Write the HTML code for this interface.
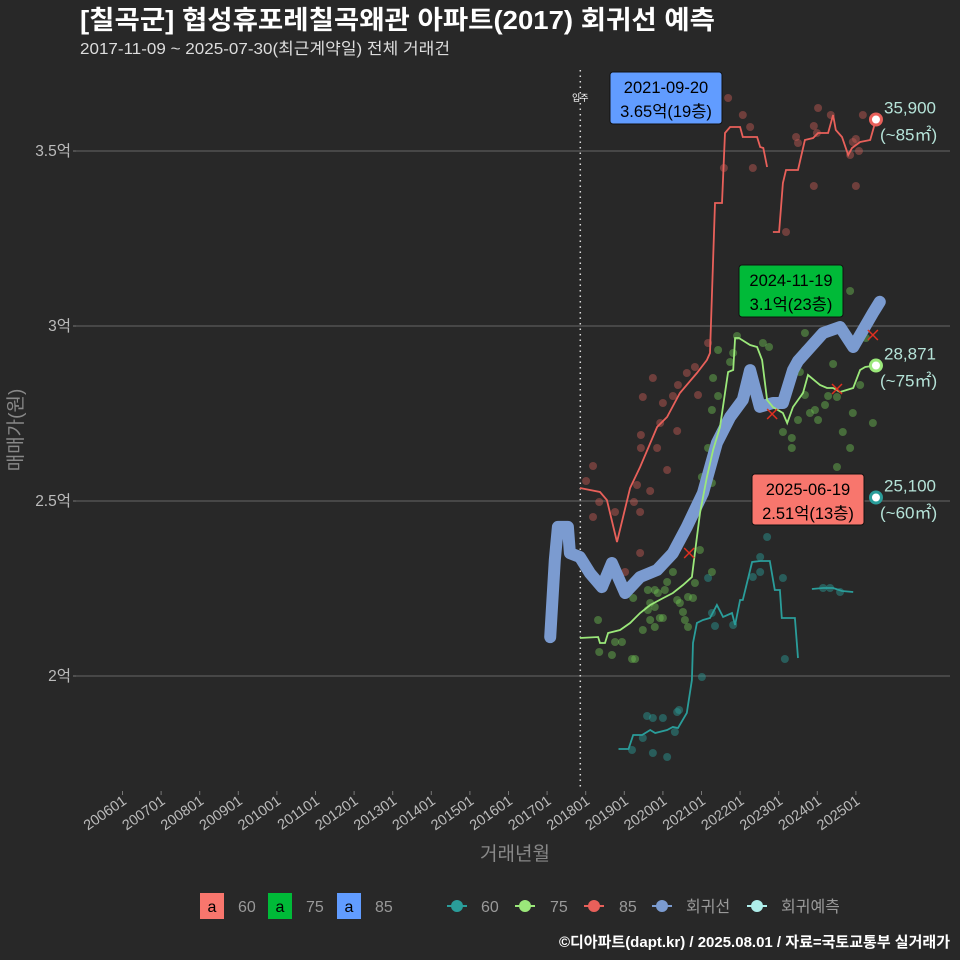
<!DOCTYPE html>
<html><head><meta charset="utf-8">
<style>
body{margin:0;background:#282828;}
svg{display:block;font-family:"Liberation Sans","Noto Sans CJK KR",sans-serif;}
</style></head>
<body>
<svg id="c" width="960" height="960" viewBox="0 0 960 960" xmlns="http://www.w3.org/2000/svg">
<rect width="960" height="960" fill="#282828"/>
<text x="80" y="29" fill="#fff" font-size="26" font-weight="bold" textLength="635" lengthAdjust="spacingAndGlyphs">[칠곡군] 협성휴포레칠곡왜관 아파트(2017) 회귀선 예측</text>
<text x="80" y="54" fill="#ddd" font-size="16" textLength="370" lengthAdjust="spacingAndGlyphs">2017-11-09 ~ 2025-07-30(최근계약일) 전체 거래건</text>
<g id="grid"></g>
<g id="marks"></g>
<text transform="translate(22,430) rotate(-90)" text-anchor="middle" fill="#888" font-size="19">매매가(원)</text>
<text x="515" y="860" text-anchor="middle" fill="#888" font-size="19">거래년월</text>
<g font-size="16" fill="#999">
 <rect x="200" y="893" width="24" height="26" fill="#f8766d"/><text x="212" y="912" text-anchor="middle" fill="#000">a</text><text x="238" y="912">60</text>
 <rect x="268" y="893" width="24" height="26" fill="#00ba38"/><text x="280" y="912" text-anchor="middle" fill="#000">a</text><text x="306" y="912">75</text>
 <rect x="337" y="893" width="24" height="26" fill="#619cff"/><text x="349" y="912" text-anchor="middle" fill="#000">a</text><text x="375" y="912">85</text>
 <line x1="447" y1="906" x2="467" y2="906" stroke="#2a9d9a" stroke-width="2"/><circle cx="457" cy="906" r="6" fill="#2a9d9a"/><text x="481" y="912">60</text>
 <line x1="515" y1="906" x2="535" y2="906" stroke="#9be87a" stroke-width="2"/><circle cx="525" cy="906" r="6" fill="#9be87a"/><text x="550" y="912">75</text>
 <line x1="584" y1="906" x2="604" y2="906" stroke="#e8605a" stroke-width="2"/><circle cx="594" cy="906" r="6" fill="#e8605a"/><text x="619" y="912">85</text>
 <line x1="652" y1="906" x2="672" y2="906" stroke="#7b9bd0" stroke-width="2"/><circle cx="662" cy="906" r="6" fill="#7b9bd0"/><text x="686" y="912">회귀선</text>
 <line x1="747" y1="906" x2="767" y2="906" stroke="#aeeeea" stroke-width="2"/><circle cx="757" cy="906" r="6" fill="#aeeeea"/><text x="781" y="912">회귀예측</text>
</g>
<text x="950" y="947" text-anchor="end" fill="#fff" font-size="15" font-weight="bold">©디아파트(dapt.kr) / 2025.08.01 / 자료=국토교통부 실거래가</text>
</svg>
<script>
// ---- data (t = fractional year, v = price in 만원) ----
const yTicks=[20000,25000,30000,35000];
const yTickLabels=["2억","2.5억","3억","3.5억"];
const xTickYears=[2006,2007,2008,2009,2010,2011,2012,2013,2014,2015,2016,2017,2018,2019,2020,2021,2022,2023,2024,2025];
const xTickLabels=["200601","200701","200801","200901","201001","201101","201201","201301","201401","201501","201601","201701","201801","201901","202001","202101","202201","202301","202401","202501"];
const regT=[2017.08,2017.20,2017.28,2017.54,2017.59,2017.85,2018.11,2018.42,2018.68,2019.02,2019.41,2019.85,2020.26,2020.62,2021.04,2021.40,2021.74,2022.07,2022.26,2022.51,2022.85,2023.11,2023.37,2023.5,2024.15,2024.59,2024.93,2025.44,2025.62];
const regV=[21110,23310,24260,24260,23510,23400,22940,22540,23230,22370,22830,23030,23510,24260,25230,26660,27400,27890,28740,27690,27800,27800,28740,29000,29800,29970,29400,30370,30690];
const l85T=[2017.85,2018.37,2018.55,2018.81,2019.15,2019.41,2019.85,2020.11,2020.44,2020.88,2021.14,2021.22,2021.35,2021.53,2021.61,2021.74,2022.00,2022.07,2022.44,2022.52,2022.60,2022.70,null,2022.85,2023.01,2023.11,2023.19,2023.50,2023.68,2023.89,2024.02,2024.28,2024.41,2024.48,2024.64,2024.80,2024.90,2025.11,2025.37,2025.52];
const l85V=[25371,25257,25029,23829,25371,25971,27114,27400,28086,28657,29029,29229,33514,33514,35514,35686,35686,35400,35400,35114,35086,34543,null,32686,32686,34086,34457,34457,35314,35371,35514,35514,36029,35600,35400,34886,35086,35257,35314,35900];
const l75T=[2017.85,2018.32,2018.37,2018.50,2018.58,2018.89,2019.15,2019.41,2019.67,2020.01,2020.26,2020.52,2020.75,2020.83,2020.96,2021.14,2021.30,2021.48,2021.61,2021.69,2021.82,2021.87,2021.97,2022.26,2022.44,2022.57,2022.70,2022.85,2023.11,2023.22,2023.37,2023.63,2023.76,2024.07,2024.25,2024.41,2024.59,2024.93,2025.11,2025.24,2025.50];
const l75V=[21086,21114,20943,20943,21229,21314,21514,21800,22029,22229,22371,22600,22829,23514,24657,25686,26457,27114,28086,28686,28743,29657,29657,29457,29400,29029,27886,27686,27514,27229,27686,28086,28600,28314,28229,28229,28114,28229,28743,28829,28871];
const l60T=[2018.85,2019.11,2019.23,2019.46,2019.67,2019.80,2020.11,2020.26,2020.39,2020.62,2020.75,2020.78,2020.88,2021.04,2021.22,2021.40,2021.56,2021.79,2021.87,2022.00,2022.07,2022.31,2022.52,2022.77,2022.90,2023.03,2023.08,2023.42,2023.50,null,2023.86,2024.15,2024.41,2024.64,2024.93];
const l60V=[17914,17914,18314,18314,18457,18371,18457,18543,18514,18943,19886,20943,21514,21600,21657,22029,21686,21800,21457,22171,22171,23257,23286,23286,22457,22457,21657,21657,20514,null,22486,22514,22514,22429,22400];
const d85T=[2021.69,2022.07,2022.26,2021.58,2022.33,2023.19,2023.91,2024.02,2023.91,2023.99,2023.45,2023.50,2024.35,2025.18,2025.00,2024.92,2025.08,2024.85,2025.00,2021.17,2019.74,2020.83,2020.62,2020.39,2020.91,2019.48,2020.00,2020.26,2019.93,2020.37,2019.43,2019.43,2019.85,2020.11,2019.67,2019.33,2018.19,2018.01,2018.35,2018.19,2018.76,2019.41,2019.25,2019.41,2019.02];
const d85V=[36514,36029,35686,34514,34514,32686,34000,36229,35714,35514,35400,35229,36029,36029,35343,35257,35000,34886,34000,29514,28514,28829,28657,28314,28029,27971,27800,28000,27229,27000,26886,26514,26514,25886,25286,25457,26000,25571,24971,24543,24686,24686,24971,23514,22971];
const d75T=[2021.30,2021.27,2021.43,2021.17,2021.01,2021.27,2021.74,2023.11,2023.34,2023.34,2023.50,2023.81,2023.94,2024.02,2024.20,2024.28,2024.51,2024.66,2024.92,2024.85,2025.11,2025.44,2024.51,2023.68,2023.29,2023.55,2024.41,2018.32,2018.35,2018.68,2018.76,2018.94,2019.20,2019.28,2019.23,2019.61,2019.79,2019.87,2019.67,2019.79,2019.67,2019.79,2019.92,2020.00,2019.48,2019.61,2020.11,2020.26,2020.37,2020.44,2020.65,2020.78,2020.83,2020.57,2020.65,2020.05,2021.27,2020.96,2020.52,2021.92,2021.43,2021.82,2022.59,2022.75,2023.68,2023.68,2024.85,2025.26];
const d75V=[28514,27600,28000,26514,25686,25514,28971,26971,26800,26514,27314,27514,27600,27314,27743,28000,27971,26971,27514,26514,28314,27229,25971,28029,28543,28686,28914,21600,20686,20600,20971,20971,20486,20486,22229,22457,22457,22371,22086,21971,21600,21400,21657,21657,21314,21886,22686,22971,22171,22086,22257,22229,22657,21600,21400,22457,22971,23600,21829,29714,29314,29229,29514,29400,29800,29314,31000,29657];
const d60T=[2022.70,2022.52,2022.52,2022.33,2023.11,2021.17,2021.27,2021.35,2021.82,2023.16,2021.01,2019.59,2019.74,2020.00,2020.37,2020.42,2020.31,2019.48,2019.20,2019.74,2020.11,2024.15,2024.33,2024.59];
const d60V=[23971,23400,22971,22829,22800,22800,21800,21429,21457,20486,19971,18857,18800,18800,18971,19029,18400,18229,17886,17800,17686,22514,22514,22400];
const xMarkT=[2022.83,2020.68,2024.51,2025.44];
const xMarkV=[27486,23514,28200,29743];
const movingInT=2017.86;

// ---- scales ----
const X=t=>122.5+(t-2006)*38.6;
const Y=v=>676-(v-20000)*0.035;
const NS="http://www.w3.org/2000/svg";
function mk(tag,attrs,parent){const e=document.createElementNS(NS,tag);for(const k in attrs)e.setAttribute(k,attrs[k]);parent.appendChild(e);return e;}
const grid=document.getElementById('grid'),marks=document.getElementById('marks');

yTicks.forEach((v,i)=>{
 const l=mk('line',{x1:76,x2:950,y1:Y(v),y2:Y(v),stroke:'#5a5a5a','stroke-width':1.2},grid);
 
 
 mk('line',{x1:73,x2:76,y1:Y(v),y2:Y(v),stroke:'#777'},grid);
 const tx=mk('text',{x:71,y:Y(v)+5,'text-anchor':'end',fill:'#bbb','font-size':15.5},grid);
 tx.textContent=yTickLabels[i];
 
 
});
xTickYears.forEach((yr,i)=>{
 const x=X(yr);
 mk('line',{x1:x,x2:x,y1:791,y2:795,stroke:'#777'},grid);
 const tx=mk('text',{transform:`translate(${x+5},${803}) rotate(-35)`,'text-anchor':'end',fill:'#bbb','font-size':14.5},grid);
 tx.textContent=xTickLabels[i];
 
 
});
const mv=mk('line',{x1:X(movingInT),x2:X(movingInT),y1:70,y2:790,stroke:'#ddd','stroke-width':1.5,'stroke-dasharray':'1.5,4'},marks);


const mvt=mk('text',{x:X(movingInT),y:101,'text-anchor':'middle',fill:'#fff','font-size':9},marks);
mvt.textContent='입주';



function dots(T,V,color,name){T.forEach((t,i)=>{const c=mk('circle',{cx:X(t),cy:Y(V[i]),r:4,fill:color,'fill-opacity':0.45},marks);
 
 });}
function path(T,V){let d='',pen=false;T.forEach((t,i)=>{if(t===null){pen=false;return;}d+=(pen?'L':'M')+X(t).toFixed(1)+','+Y(V[i]).toFixed(1);pen=true;});return d;}
dots(d60T,d60V,'#2a9d9a','dot-60');
dots(d75T,d75V,'#6cbf52','dot-75');
dots(d85T,d85V,'#c65a55','dot-85');
const pr=mk('path',{d:path(regT,regV),fill:'none',stroke:'#7b9bd0','stroke-width':12,'stroke-linecap':'round','stroke-linejoin':'round'},marks);


[[l60T,l60V,'#2a9d9a','line-60'],[l75T,l75V,'#9be87a','line-75'],[l85T,l85V,'#e8605a','line-85']].forEach(s=>{
 const p=mk('path',{d:path(s[0],s[1]),fill:'none',stroke:s[2],'stroke-width':1.8},marks);
 
 
});
xMarkT.forEach((t,i)=>{const x=X(t),y=Y(xMarkV[i]);
 const p=mk('path',{d:`M${x-5},${y-5}L${x+5},${y+5}M${x-5},${y+5}L${x+5},${y-5}`,stroke:'#e03020','stroke-width':1.5},marks);
 
 });
const endT=[2025.52,2025.52,2025.52],endV=[35900,28871,25100],endC=['#e8605a','#9be87a','#2a9d9a'],endLab=['35,900','28,871','25,100'],endArea=['(~85㎡)','(~75㎡)','(~60㎡)'];
endT.forEach((t,i)=>{const x=X(t),y=Y(endV[i]);
 const c=mk('circle',{cx:x,cy:y,r:5.5,fill:'#fff',stroke:endC[i],'stroke-width':3},marks);
 
 
 const a=mk('text',{x:884,y:y-6,fill:'#b5e3d8','font-size':17},marks);a.textContent=endLab[i];
 
 
 const b=mk('text',{x:880,y:y+21,fill:'#b5e3d8','font-size':17},marks);b.textContent=endArea[i];
 
 
});
[[610,72,112,52,'#619cff','2021-09-20','3.65억(19층)'],[739,265,104,52,'#00ba38','2024-11-19','3.1억(23층)'],[752,474,112,51,'#f8766d','2025-06-19','2.51억(13층)']].forEach(b=>{
 const r=mk('rect',{x:b[0],y:b[1],width:b[2],height:b[3],rx:3,fill:b[4],stroke:'#111','stroke-width':1},marks);
 
 
 const t1=mk('text',{x:b[0]+b[2]/2,y:b[1]+21,'text-anchor':'middle',fill:'#000','font-size':16.5},marks);t1.textContent=b[5];
 const t2=mk('text',{x:b[0]+b[2]/2,y:b[1]+45,'text-anchor':'middle',fill:'#000','font-size':16.5},marks);t2.textContent=b[6];
});
</script>
</body></html>
